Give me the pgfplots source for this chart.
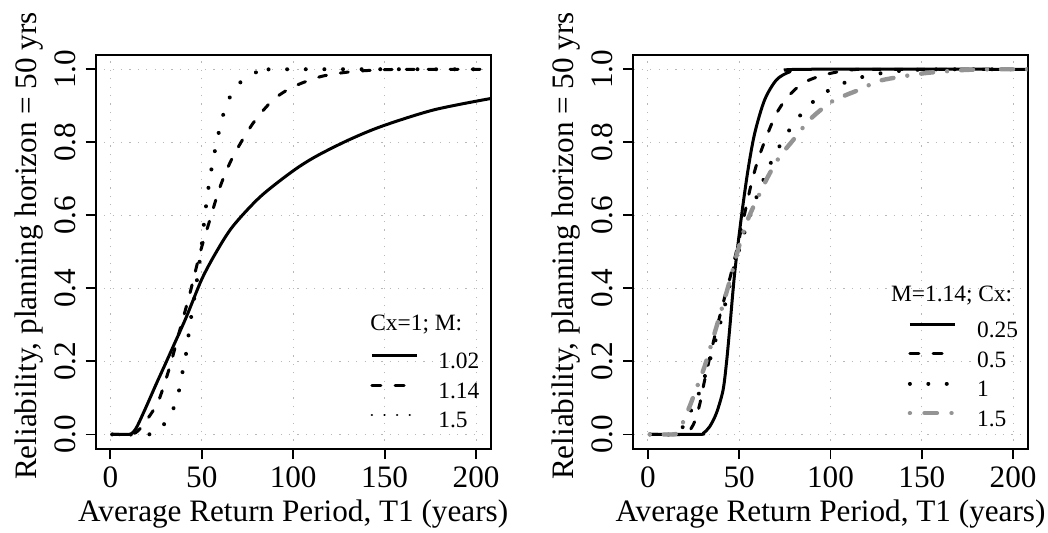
\documentclass[border=0pt]{standalone}
\usepackage{fontspec}
\setmainfont{Liberation Serif}
\usepackage{pgfplots}
\pgfplotsset{compat=1.18}

\definecolor{gridgray}{gray}{0.72}
\definecolor{curvegray}{gray}{0.58}

% R-like panel
\pgfplotsset{
  rpanel/.style={
    scale only axis, width=197.5pt, height=197.15pt,
    xmin=-8, xmax=208, ymin=-0.04, ymax=1.04,
    xtick={0,50,100,150,200},
    ytick={0,0.2,0.4,0.6,0.8,1},
    yticklabels={0.0,0.2,0.4,0.6,0.8,1.0},
    grid=major,
    major grid style={draw=gridgray, line width=0.5pt, dash pattern=on 0.6pt off 3.6pt},
    tick align=outside, major tick length=5pt,
    xtick pos=left, ytick pos=left,
    tick style={black, line width=0.9pt},
    axis line style={black, line width=0.9pt},
    /pgf/number format/assume math mode=true,
    ticklabel style={font=\fontsize{15.6}{18}\selectfont, inner sep=0pt},
    xticklabel style={anchor=north},
    xticklabel shift=3.85pt,
    yticklabel style={rotate=90, anchor=base},
    yticklabel shift=5.35pt,
    label style={font=\fontsize{15.6}{18}\selectfont, inner sep=0pt},
    xlabel={Average Return Period, T1 (years)},
    ylabel={Reliability, planning horizon = 50 yrs},
    x label style={at={(axis description cs:0.5,0)}, anchor=base, yshift=-36pt},
    y label style={at={([xshift=-29.7pt]axis description cs:0,0.515)}, anchor=base},
    legend cell align=left,
    legend image code/.code={\draw[#1] (0pt,3.65pt) -- (22.5pt,3.65pt);},
    legend style={draw=none, fill=none, inner sep=0pt, column sep=10pt, row sep=3.8pt,
      font=\fontsize{11.7}{14}\selectfont,
      nodes={inner sep=0pt, text height=8.4pt, text depth=2.6pt}},
  },
  solidR/.style={black, line width=1.5pt, smooth},
  dashR/.style={black, line width=1.5pt, line cap=round, dash pattern=on 4pt off 7pt, smooth},
  dotR/.style={black, line width=2pt, line cap=round, dash pattern=on 0.01pt off 9.3pt, smooth},
  dashdotR/.style={curvegray, line width=2.2pt, line cap=round, dash pattern=on 0.01pt off 7pt on 6pt off 7pt, smooth},
}

\begin{document}
\begin{tikzpicture}
\useasboundingbox (-47.85pt,-41.5pt) rectangle (476.15pt,224.5pt);

% ---- left panel: Cx = 1, varying M
\begin{axis}[rpanel, at={(0pt,0pt)}, anchor=south west,
    legend style={at={(rel axis cs:0.6944,0.2473)}, anchor=north west}]
  \addplot[solidR, forget plot] coordinates {
    (1,0) (10,0) (12,0.004) (14,0.016) (16,0.036) (20,0.08) (25,0.137) (30,0.192)
    (34.3,0.24) (41.6,0.322) (50,0.425) (58,0.5) (67,0.57) (82,0.651) (100,0.722)
    (113,0.763) (131,0.808) (149,0.845) (177,0.889) (208,0.92)};
  \addplot[dashR, forget plot] coordinates {
    (1,0) (10,0) (14,0.005) (17,0.02) (20,0.04) (24,0.07) (27,0.1) (32.5,0.185)
    (38,0.286) (43.5,0.386) (49,0.496) (54.4,0.587) (60,0.678) (67,0.76) (78,0.852)
    (89,0.916) (100,0.952) (115,0.98) (131,0.993) (150,0.999) (170,1) (208,1)};
  \addplot[dotR, forget plot] coordinates {
    (1,0) (20,0) (25,0.005) (30,0.032) (35,0.076) (37.6,0.121) (39.4,0.169)
    (41.3,0.217) (42.6,0.266) (44,0.315) (45.6,0.363) (47.1,0.414) (48.6,0.465)
    (50,0.52) (51.7,0.6) (54.4,0.7) (58,0.797) (62,0.88) (67,0.94) (73.6,0.975)
    (82,0.996) (91,1) (208,1)};
  \addlegendimage{black, line width=1.5pt}
  \addlegendentry{1.02}
  \addlegendimage{black, line width=1.5pt, line cap=round, dash pattern=on 4.5pt off 7.15pt}
  \addlegendentry{1.14}
  \addlegendimage{black, line width=1.3pt, line cap=round, dash pattern=on 0.01pt off 6.3pt}
  \addlegendentry{1.5}
  \node[anchor=base west, inner sep=0pt, font=\fontsize{11.7}{14}\selectfont]
    at (rel axis cs:0.6944,0.3018) {Cx=1; M:};
\end{axis}

% ---- right panel: M = 1.14, varying Cx
\begin{axis}[rpanel, at={(268.8pt,0pt)}, anchor=south west, width=197.2pt,
    legend style={at={(rel axis cs:0.6947,0.3266)}, anchor=north west}]
  \addplot[solidR, forget plot] coordinates {
    (1,0) (28,0) (30.5,0.004) (33.8,0.021) (37.5,0.058) (41.1,0.12) (43,0.195)
    (44.8,0.29) (47.5,0.441) (51.2,0.596) (54.8,0.724) (58.5,0.825) (63.9,0.916)
    (70.4,0.971) (77.6,0.993) (85,1) (208,1)};
  \addplot[dashR, forget plot] coordinates {
    (1,0) (20,0) (22.5,0.008) (25.6,0.035) (28.5,0.085) (31.1,0.149) (36.5,0.267)
    (42,0.375) (45,0.43) (48.4,0.5) (53,0.605) (56.7,0.688) (60.3,0.752) (64.9,0.815)
    (70.4,0.879) (76.7,0.925) (84.9,0.962) (95.9,0.984) (110.5,0.998) (125,1) (208,1)};
  \addplot[dotR, forget plot] coordinates {
    (1,0) (16,0) (18,0.01) (20,0.03) (23.8,0.067) (27.9,0.112) (31.1,0.158)
    (34.2,0.208) (38,0.275) (42,0.35) (46.6,0.446) (52.1,0.541) (55.3,0.589)
    (58.5,0.637) (62.1,0.683) (66.1,0.731) (70.4,0.774) (75.3,0.817) (80.9,0.858)
    (87.3,0.896) (95,0.93) (103.6,0.954) (112.7,0.973) (122.4,0.984) (132.4,0.993)
    (145,0.998) (160,1) (208,1)};
  \addplot[dashdotR, forget plot] coordinates {
    (1,0) (14,0) (16,0.006) (18.5,0.025) (22.8,0.076) (26.5,0.125) (31.1,0.187)
    (35.6,0.262) (40.2,0.34) (44.8,0.42) (50.2,0.52) (54.8,0.59) (62.1,0.669)
    (66.7,0.715) (72.2,0.761) (79.5,0.806) (86.8,0.852) (92.3,0.879) (100.5,0.911)
    (108.7,0.93) (117.8,0.948) (127,0.969) (151,0.989) (173,0.998) (190,1) (208,1)};
  \addlegendimage{black, line width=1.5pt}
  \addlegendentry{0.25}
  \addlegendimage{black, line width=1.5pt, line cap=round, dash pattern=on 4.5pt off 7.15pt}
  \addlegendentry{0.5}
  \addlegendimage{black, line width=2pt, line cap=round, dash pattern=on 0.01pt off 9.2pt}
  \addlegendentry{1}
  \addlegendimage{curvegray, line width=2.2pt, line cap=round, dash pattern=on 0.01pt off 7.3pt on 6.2pt off 7.3pt}
  \addlegendentry{1.5}
  \node[anchor=base west, inner sep=0pt, font=\fontsize{11.7}{14}\selectfont]
    at (rel axis cs:0.6526,0.3736) {M=1.14; Cx:};
\end{axis}
\end{tikzpicture}
\end{document}
